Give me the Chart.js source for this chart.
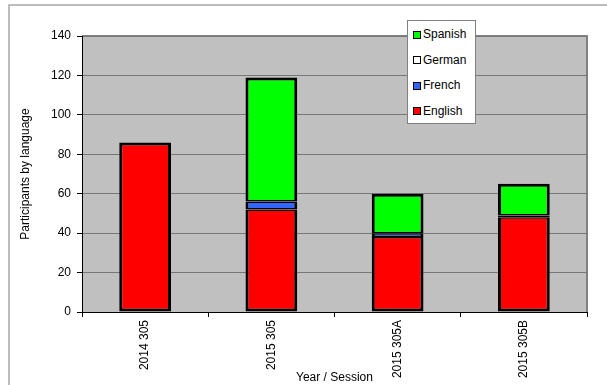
<!DOCTYPE html>
<html>
<head>
<meta charset="utf-8">
<script src="https://cdn.jsdelivr.net/npm/chart.js@4.4.0/dist/chart.umd.min.js"></script>
<style>
    html, body { margin: 0; padding: 0; background: #fff; }
    #wrap { position: relative; width: 607px; height: 385px; }
    #legend {
        position: absolute; left: 407px; top: 20px; width: 67px; height: 102px;
        border: 1px solid #808080; background: #fff;
        font: 12px "Liberation Sans", Arial, sans-serif; color: #000;
    }
    .item { position: absolute; left: 5px; height: 14px; line-height: 14px; white-space: nowrap; }
    .swatch {
        display: inline-block; width: 8px; height: 8px; box-sizing: border-box;
        border: 1.5px solid #000; margin-right: 2px; vertical-align: -0.5px;
    }
</style>
</head>
<body>
<div id="wrap">
    <canvas id="barChart" width="607" height="385"></canvas>
    <div id="legend"></div>
</div>
<script>
// Chart data
const sessions = ['2014 305', '2015 305', '2015 305A', '2015 305B'];
const english = [86, 52, 38, 48];
const french = [0, 4, 2, 0];
const german = [0, 0, 0, 1];
const spanish = [0, 63, 20, 16];
const yTicks = [0, 20, 40, 60, 80, 100, 120, 140];

const FONT = '"Liberation Sans", Arial, sans-serif';

/**
 * Black outline round each stacked segment; outer edges thicker than the joins
 */
function segmentBorder(ctx) {
    const i = ctx.dataIndex;
    const d = ctx.datasetIndex;
    const sets = ctx.chart.data.datasets;
    let isTop = true;
    for (let k = d + 1; k < sets.length; k++) {
        if (sets[k].data[i] > 0) isTop = false;
    }
    return { left: 3, right: 3, top: isTop ? 3 : 1.5, bottom: d === 0 ? 3 : 1.5 };
}

// Grey plot area, its frame and the outer chart frame
const plotBackground = {
    id: 'plotBackground',
    beforeDraw(chart) {
        const { ctx, chartArea: a } = chart;
        ctx.save();
        ctx.strokeStyle = '#a6a6a6';
        ctx.lineWidth = 1.5;
        ctx.beginPath();
        ctx.moveTo(9, chart.height);
        ctx.lineTo(9, 5);
        ctx.lineTo(chart.width, 5);
        ctx.stroke();

        ctx.fillStyle = '#c0c0c0';
        ctx.fillRect(a.left, a.top, a.width, a.height);
        ctx.strokeStyle = '#808080';
        ctx.lineWidth = 2;
        ctx.beginPath();
        ctx.moveTo(a.left, a.top);
        ctx.lineTo(a.right, a.top);
        ctx.lineTo(a.right, a.bottom);
        ctx.stroke();
        ctx.restore();
    }
};

function makeDataset(label, values, color) {
    return {
        label: label,
        data: values,
        backgroundColor: color,
        borderColor: '#000',
        borderWidth: segmentBorder,
        borderSkipped: false,
        categoryPercentage: 1.0,
        barPercentage: 0.41
    };
}

const chart = new Chart(document.getElementById('barChart').getContext('2d'), {
    type: 'bar',
    data: {
        labels: sessions,
        datasets: [
            makeDataset('English', english, '#ff0000'),
            makeDataset('French', french, '#3366ff'),
            makeDataset('German', german, '#ffffff'),
            makeDataset('Spanish', spanish, '#00ff00')
        ]
    },
    options: {
        responsive: false,
        animation: false,
        layout: { padding: { left: 12, right: 20, top: 36, bottom: 0 } },
        plugins: {
            legend: { display: false },
            tooltip: { enabled: false }
        },
        scales: {
            x: {
                stacked: true,
                offset: true,
                afterFit: (scale) => { scale.height = 73; },
                grid: { drawOnChartArea: false, offset: true, tickLength: 5, tickColor: '#000' },
                border: { color: '#000', width: 1 },
                ticks: {
                    color: '#000', font: { family: FONT, size: 12 },
                    minRotation: 90, maxRotation: 90, padding: 3, autoSkip: false
                },
                title: {
                    display: true, text: 'Year / Session', color: '#000',
                    font: { family: FONT, size: 12 }, padding: { top: 0, bottom: 0 }
                }
            },
            y: {
                stacked: true,
                min: 0,
                max: 140,
                afterFit: (scale) => { scale.width = 70; },
                afterBuildTicks: (scale) => { scale.ticks = yTicks.map(v => ({ value: v })); },
                grid: { color: '#777', lineWidth: 1, tickLength: 5, tickColor: '#000' },
                border: { color: '#000', width: 1 },
                ticks: { color: '#000', font: { family: FONT, size: 12 }, padding: 6 },
                title: {
                    display: true, text: 'Participants by language', color: '#000',
                    font: { family: FONT, size: 12 }, padding: { top: 6, bottom: 0 }
                }
            }
        }
    },
    plugins: [plotBackground]
});

/**
 * Builds the boxed legend, top series first like the original
 */
function renderLegend(chartRef) {
    const box = document.getElementById('legend');
    box.innerHTML = '';
    const sets = chartRef.data.datasets.slice().reverse();
    sets.forEach((ds, n) => {
        const item = document.createElement('div');
        item.className = 'item';
        item.style.top = (6 + n * 25.6) + 'px';
        const sw = document.createElement('span');
        sw.className = 'swatch';
        sw.style.background = ds.backgroundColor;
        item.appendChild(sw);
        item.appendChild(document.createTextNode(ds.label));
        box.appendChild(item);
    });
}

renderLegend(chart);
</script>
</body>
</html>
